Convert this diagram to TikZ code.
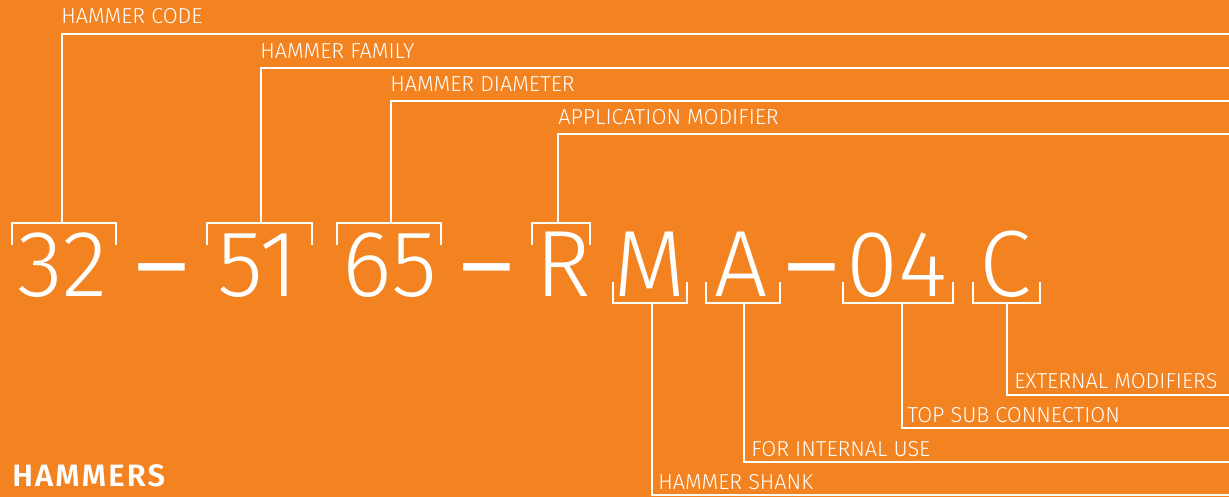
\documentclass[tikz,border=0pt]{standalone}
\usepackage{fontspec}
\setmainfont{Fira Sans Light}
\newfontfamily\headfont{Fira Sans SemiBold}[LetterSpace=7]
\usetikzlibrary{positioning}
\definecolor{hammerorange}{RGB}{243,131,33}
% bracket over a group of the code, and under it
\newcommand{\topbracket}[2]{\draw[wire] (#1,245) |- (#2,223) -- (#2,245);}
\newcommand{\lowbracket}[2]{\draw[wire] (#1,282) |- (#2,303) -- (#2,282);}

\begin{document}
\begin{tikzpicture}[
  x=0.025cm, y=-0.025cm,
  every node/.style={text=white, inner sep=0pt},
  wire/.style={draw=white, line width=1.8pt, line join=miter},
  code/.style={font=\fontsize{67}{67}\selectfont, anchor=base},
  sep/.style={font=\fontsize{67}{67}\selectfont, anchor=base},
  lbl/.style={font=\fontsize{15.4}{15.4}\selectfont, anchor=base west},
  title/.style={font=\headfont\fontsize{22}{22}\selectfont, anchor=base west}
]
\fill[hammerorange] (0,0) rectangle (1229,497);
\useasboundingbox (0,0) rectangle (1229,497);

% === CODE ===
\node[code] (c32) at (62.5,297) {32};
\node[sep]  (d1)  at (162,315)  {\scalebox{1.12}[1.6]{–}};
\node[code] (c51) at (258,297)  {51};
\node[code] (c65) at (389.5,297) {65};
\node[sep]  (d2)  at (487,315)  {\scalebox{1.12}[1.6]{–}};
\node[code] (cR)  at (563,297)  {R};
\node[code] (cM)  at (649.5,297) {M};
\node[code] (cA)  at (741.5,297) {A};
\node[sep]  (d3)  at (811.5,315) {\scalebox{1.12}[1.6]{–}};
\node[code] (c04) at (896.5,297) {04};
\node[code] (cC)  at (1005,297) {C};

% === UPPER LABELS ===
\node[lbl] (lcode) at (61,24)  {HAMMER CODE};
\node[lbl] (lfam)  at (260,59) {HAMMER FAMILY};
\node[lbl] (ldia)  at (390,92) {HAMMER DIAMETER};
\node[lbl] (lapp)  at (558,125) {APPLICATION MODIFIER};

\topbracket{12}{116}
\topbracket{207}{312}
\topbracket{337}{441}
\topbracket{532}{590}

\coordinate (s32) at (62,223);  \coordinate (e32) at (1229,34);
\coordinate (s51) at (261,223); \coordinate (e51) at (1229,68);
\coordinate (s65) at (391,223); \coordinate (e65) at (1229,101);
\coordinate (sR)  at (558,223); \coordinate (eR)  at (1229,134);
\draw[wire] (s32) |- (e32);
\draw[wire] (s51) |- (e51);
\draw[wire] (s65) |- (e65);
\draw[wire] (sR)  |- (eR);

% === LOWER LABELS ===
\node[lbl] (lshank) at (658,489)  {HAMMER SHANK};
\node[lbl] (lint)   at (751,456)  {FOR INTERNAL USE};
\node[lbl] (ltop)   at (907,422)  {TOP SUB CONNECTION};
\node[lbl] (lext)   at (1014,389) {EXTERNAL MODIFIERS};

\lowbracket{613}{687}
\lowbracket{706}{780}
\lowbracket{843}{953}
\lowbracket{973}{1040}

\coordinate (sM)  at (652,303);  \coordinate (eM)  at (1229,495);
\coordinate (sA)  at (744,303);  \coordinate (eA)  at (1229,462);
\coordinate (s04) at (902,303);  \coordinate (e04) at (1229,428);
\coordinate (sC)  at (1007,303); \coordinate (eC)  at (1229,395);
\draw[wire] (sM)  |- (eM);
\draw[wire] (sA)  |- (eA);
\draw[wire] (s04) |- (e04);
\draw[wire] (sC)  |- (eC);

% === TITLE ===
\node[title] (head) at (12,486) {HAMMERS};
\end{tikzpicture}
\end{document}
